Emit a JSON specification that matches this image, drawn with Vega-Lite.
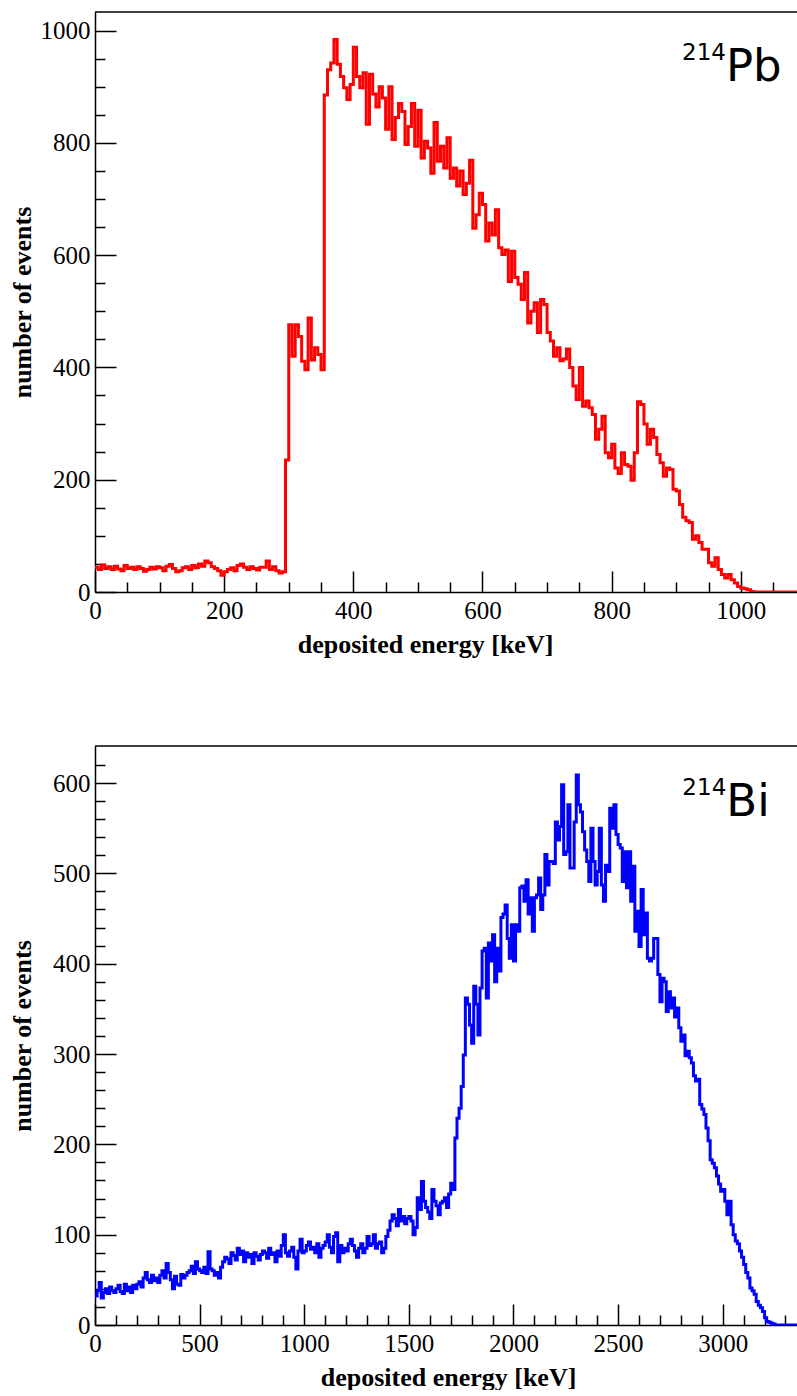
{
  "$schema": "https://vega.github.io/schema/vega-lite/v6.json",
  "background": "white",
  "padding": {"left": 9, "top": 11, "right": 0, "bottom": 0},
  "bounds": "flush",
  "spacing": 154,
  "config": {
    "view": {"stroke": null},
    "axis": {
      "grid": false,
      "format": "d",
      "labelFont": "Liberation Serif",
      "labelFontSize": 25,
      "labelColor": "#000000",
      "titleFont": "Liberation Serif",
      "titleFontSize": 26,
      "titleFontWeight": "bold",
      "titleColor": "#000000",
      "domainColor": "#000000",
      "domainWidth": 1.5,
      "tickColor": "#000000",
      "tickWidth": 1.5,
      "labelOverlap": false,
      "labelBound": false,
      "labelFlush": false
    }
  },
  "datasets": {
    "pb": [
      {"e":0,"n":44},{"e":5,"n":40},{"e":10,"n":48},{"e":15,"n":42},{"e":20,"n":45},{"e":25,"n":40},{"e":30,"n":46},{"e":35,"n":41},{"e":40,"n":38},{"e":45,"n":47},
      {"e":50,"n":42},{"e":55,"n":44},{"e":60,"n":40},{"e":65,"n":45},{"e":70,"n":42},{"e":75,"n":37},{"e":80,"n":40},{"e":85,"n":44},{"e":90,"n":41},{"e":95,"n":45},
      {"e":100,"n":43},{"e":105,"n":38},{"e":110,"n":46},{"e":115,"n":49},{"e":120,"n":42},{"e":125,"n":36},{"e":130,"n":38},{"e":135,"n":43},{"e":140,"n":45},{"e":145,"n":40},
      {"e":150,"n":47},{"e":155,"n":43},{"e":160,"n":50},{"e":165,"n":46},{"e":170,"n":55},{"e":175,"n":52},{"e":180,"n":45},{"e":185,"n":42},{"e":190,"n":38},{"e":195,"n":30},
      {"e":200,"n":36},{"e":205,"n":40},{"e":210,"n":43},{"e":215,"n":38},{"e":220,"n":47},{"e":225,"n":50},{"e":230,"n":44},{"e":235,"n":40},{"e":240,"n":45},{"e":245,"n":42},
      {"e":250,"n":39},{"e":255,"n":44},{"e":260,"n":44},{"e":265,"n":55},{"e":270,"n":40},{"e":275,"n":45},{"e":280,"n":38},{"e":285,"n":34},{"e":290,"n":36},{"e":295,"n":235},
      {"e":300,"n":476},{"e":305,"n":420},{"e":310,"n":476},{"e":315,"n":455},{"e":320,"n":411},{"e":325,"n":396},{"e":330,"n":488},{"e":335,"n":413},{"e":340,"n":435},{"e":345,"n":423},
      {"e":350,"n":396},{"e":355,"n":885},{"e":360,"n":930},{"e":365,"n":942},{"e":370,"n":984},{"e":375,"n":940},{"e":380,"n":918},{"e":385,"n":898},{"e":390,"n":877},{"e":395,"n":904},
      {"e":400,"n":970},{"e":405,"n":918},{"e":410,"n":898},{"e":415,"n":925},{"e":420,"n":833},{"e":425,"n":922},{"e":430,"n":887},{"e":435,"n":864},{"e":440,"n":900},{"e":445,"n":880},
      {"e":450,"n":824},{"e":455,"n":900},{"e":460,"n":806},{"e":465,"n":845},{"e":470,"n":870},{"e":475,"n":856},{"e":480,"n":797},{"e":485,"n":829},{"e":490,"n":870},{"e":495,"n":794},
      {"e":500,"n":858},{"e":505,"n":773},{"e":510,"n":803},{"e":515,"n":791},{"e":520,"n":746},{"e":525,"n":836},{"e":530,"n":767},{"e":535,"n":794},{"e":540,"n":755},{"e":545,"n":809},
      {"e":550,"n":737},{"e":555,"n":755},{"e":560,"n":723},{"e":565,"n":750},{"e":570,"n":708},{"e":575,"n":728},{"e":580,"n":769},{"e":585,"n":648},{"e":590,"n":672},{"e":595,"n":710},
      {"e":600,"n":690},{"e":605,"n":625},{"e":610,"n":657},{"e":615,"n":636},{"e":620,"n":681},{"e":625,"n":613},{"e":630,"n":601},{"e":635,"n":609},{"e":640,"n":553},{"e":645,"n":607},
      {"e":650,"n":560},{"e":655,"n":548},{"e":660,"n":521},{"e":665,"n":569},{"e":670,"n":479},{"e":675,"n":500},{"e":680,"n":515},{"e":685,"n":462},{"e":690,"n":521},{"e":695,"n":512},
      {"e":700,"n":462},{"e":705,"n":447},{"e":710,"n":420},{"e":715,"n":435},{"e":720,"n":412},{"e":725,"n":415},{"e":730,"n":433},{"e":735,"n":400},{"e":740,"n":367},{"e":745,"n":343},
      {"e":750,"n":400},{"e":755,"n":331},{"e":760,"n":340},{"e":765,"n":328},{"e":770,"n":316},{"e":775,"n":272},{"e":780,"n":290},{"e":785,"n":313},{"e":790,"n":248},{"e":795,"n":239},
      {"e":800,"n":263},{"e":805,"n":221},{"e":810,"n":211},{"e":815,"n":248},{"e":820,"n":227},{"e":825,"n":224},{"e":830,"n":199},{"e":835,"n":248},{"e":840,"n":339},{"e":845,"n":334},
      {"e":850,"n":299},{"e":855,"n":263},{"e":860,"n":290},{"e":865,"n":275},{"e":870,"n":245},{"e":875,"n":230},{"e":880,"n":206},{"e":885,"n":221},{"e":890,"n":218},{"e":895,"n":183},
      {"e":900,"n":180},{"e":905,"n":156},{"e":910,"n":133},{"e":915,"n":127},{"e":920,"n":124},{"e":925,"n":94},{"e":930,"n":100},{"e":935,"n":88},{"e":940,"n":76},{"e":945,"n":76},
      {"e":950,"n":52},{"e":955,"n":46},{"e":960,"n":61},{"e":965,"n":40},{"e":970,"n":31},{"e":975,"n":25},{"e":980,"n":31},{"e":985,"n":22},{"e":990,"n":16},{"e":995,"n":10},
      {"e":1000,"n":7},{"e":1005,"n":6},{"e":1010,"n":4},{"e":1015,"n":1},{"e":1020,"n":0},{"e":1025,"n":0},{"e":1030,"n":0},{"e":1035,"n":0},{"e":1040,"n":0},{"e":1045,"n":0},
      {"e":1050,"n":0},{"e":1055,"n":0},{"e":1060,"n":0},{"e":1065,"n":0},{"e":1070,"n":0},{"e":1075,"n":0},{"e":1080,"n":0},{"e":1085,"n":0},{"e":1090,"n":0}
    ],
    "bi": [
      {"e":0,"n":32},{"e":10,"n":38},{"e":20,"n":47},{"e":30,"n":30},{"e":40,"n":36},{"e":50,"n":40},{"e":60,"n":35},{"e":70,"n":42},{"e":80,"n":38},{"e":90,"n":36},
      {"e":100,"n":40},{"e":110,"n":44},{"e":120,"n":37},{"e":130,"n":35},{"e":140,"n":45},{"e":150,"n":38},{"e":160,"n":42},{"e":170,"n":36},{"e":180,"n":44},{"e":190,"n":40},
      {"e":200,"n":45},{"e":210,"n":48},{"e":220,"n":42},{"e":230,"n":52},{"e":240,"n":58},{"e":250,"n":50},{"e":260,"n":47},{"e":270,"n":55},{"e":280,"n":49},{"e":290,"n":52},
      {"e":300,"n":47},{"e":310,"n":55},{"e":320,"n":60},{"e":330,"n":52},{"e":340,"n":68},{"e":350,"n":58},{"e":360,"n":50},{"e":370,"n":40},{"e":380,"n":54},{"e":390,"n":45},
      {"e":400,"n":44},{"e":410,"n":56},{"e":420,"n":52},{"e":430,"n":55},{"e":440,"n":58},{"e":450,"n":60},{"e":460,"n":65},{"e":470,"n":57},{"e":480,"n":70},{"e":490,"n":62},
      {"e":500,"n":60},{"e":510,"n":58},{"e":520,"n":64},{"e":530,"n":57},{"e":540,"n":81},{"e":550,"n":62},{"e":560,"n":60},{"e":570,"n":55},{"e":580,"n":58},{"e":590,"n":52},
      {"e":600,"n":64},{"e":610,"n":70},{"e":620,"n":75},{"e":630,"n":73},{"e":640,"n":68},{"e":650,"n":80},{"e":660,"n":77},{"e":670,"n":72},{"e":680,"n":85},{"e":690,"n":78},
      {"e":700,"n":82},{"e":710,"n":70},{"e":720,"n":80},{"e":730,"n":75},{"e":740,"n":78},{"e":750,"n":68},{"e":760,"n":80},{"e":770,"n":76},{"e":780,"n":72},{"e":790,"n":78},
      {"e":800,"n":82},{"e":810,"n":80},{"e":820,"n":74},{"e":830,"n":85},{"e":840,"n":78},{"e":850,"n":80},{"e":860,"n":70},{"e":870,"n":82},{"e":880,"n":76},{"e":890,"n":88},
      {"e":900,"n":100},{"e":910,"n":80},{"e":920,"n":76},{"e":930,"n":82},{"e":940,"n":86},{"e":950,"n":75},{"e":960,"n":62},{"e":970,"n":82},{"e":980,"n":95},{"e":990,"n":80},
      {"e":1000,"n":82},{"e":1010,"n":88},{"e":1020,"n":92},{"e":1030,"n":84},{"e":1040,"n":86},{"e":1050,"n":80},{"e":1060,"n":90},{"e":1070,"n":75},{"e":1080,"n":85},{"e":1090,"n":88},
      {"e":1100,"n":92},{"e":1110,"n":100},{"e":1120,"n":86},{"e":1130,"n":80},{"e":1140,"n":98},{"e":1150,"n":102},{"e":1160,"n":70},{"e":1170,"n":88},{"e":1180,"n":80},{"e":1190,"n":85},
      {"e":1200,"n":82},{"e":1210,"n":90},{"e":1220,"n":95},{"e":1230,"n":88},{"e":1240,"n":82},{"e":1250,"n":75},{"e":1260,"n":85},{"e":1270,"n":90},{"e":1280,"n":80},{"e":1290,"n":85},
      {"e":1300,"n":98},{"e":1310,"n":88},{"e":1320,"n":90},{"e":1330,"n":100},{"e":1340,"n":85},{"e":1350,"n":90},{"e":1360,"n":92},{"e":1370,"n":80},{"e":1380,"n":85},{"e":1390,"n":98},
      {"e":1400,"n":105},{"e":1410,"n":115},{"e":1420,"n":122},{"e":1430,"n":118},{"e":1440,"n":110},{"e":1450,"n":128},{"e":1460,"n":115},{"e":1470,"n":120},{"e":1480,"n":112},{"e":1490,"n":118},
      {"e":1500,"n":120},{"e":1510,"n":115},{"e":1520,"n":100},{"e":1530,"n":108},{"e":1540,"n":141},{"e":1550,"n":128},{"e":1560,"n":159},{"e":1570,"n":137},{"e":1580,"n":130},{"e":1590,"n":125},
      {"e":1600,"n":118},{"e":1610,"n":150},{"e":1620,"n":137},{"e":1630,"n":132},{"e":1640,"n":122},{"e":1650,"n":135},{"e":1660,"n":137},{"e":1670,"n":141},{"e":1680,"n":130},{"e":1690,"n":145},
      {"e":1700,"n":157},{"e":1710,"n":150},{"e":1720,"n":207},{"e":1730,"n":229},{"e":1740,"n":240},{"e":1750,"n":264},{"e":1760,"n":299},{"e":1770,"n":362},{"e":1780,"n":355},{"e":1790,"n":332},
      {"e":1800,"n":312},{"e":1810,"n":375},{"e":1820,"n":355},{"e":1830,"n":321},{"e":1840,"n":373},{"e":1850,"n":414},{"e":1860,"n":417},{"e":1870,"n":362},{"e":1880,"n":423},{"e":1890,"n":403},
      {"e":1900,"n":432},{"e":1910,"n":380},{"e":1920,"n":417},{"e":1930,"n":392},{"e":1940,"n":451},{"e":1950,"n":455},{"e":1960,"n":465},{"e":1970,"n":428},{"e":1980,"n":406},{"e":1990,"n":443},
      {"e":2000,"n":403},{"e":2010,"n":443},{"e":2020,"n":436},{"e":2030,"n":484},{"e":2040,"n":486},{"e":2050,"n":469},{"e":2060,"n":493},{"e":2070,"n":455},{"e":2080,"n":473},{"e":2090,"n":436},
      {"e":2100,"n":473},{"e":2110,"n":476},{"e":2120,"n":495},{"e":2130,"n":460},{"e":2140,"n":476},{"e":2150,"n":521},{"e":2160,"n":487},{"e":2170,"n":513},{"e":2180,"n":513},{"e":2190,"n":511},
      {"e":2200,"n":557},{"e":2210,"n":537},{"e":2220,"n":552},{"e":2230,"n":598},{"e":2240,"n":521},{"e":2250,"n":524},{"e":2260,"n":576},{"e":2270,"n":506},{"e":2280,"n":506},{"e":2290,"n":557},
      {"e":2300,"n":609},{"e":2310,"n":576},{"e":2320,"n":568},{"e":2330,"n":546},{"e":2340,"n":526},{"e":2350,"n":513},{"e":2360,"n":491},{"e":2370,"n":550},{"e":2380,"n":513},{"e":2390,"n":487},
      {"e":2400,"n":502},{"e":2410,"n":550},{"e":2420,"n":487},{"e":2430,"n":469},{"e":2440,"n":509},{"e":2450,"n":502},{"e":2460,"n":572},{"e":2470,"n":550},{"e":2480,"n":576},{"e":2490,"n":543},
      {"e":2500,"n":532},{"e":2510,"n":528},{"e":2520,"n":491},{"e":2530,"n":524},{"e":2540,"n":484},{"e":2550,"n":524},{"e":2560,"n":469},{"e":2570,"n":508},{"e":2580,"n":436},{"e":2590,"n":458},
      {"e":2600,"n":419},{"e":2610,"n":482},{"e":2620,"n":432},{"e":2630,"n":456},{"e":2640,"n":406},{"e":2650,"n":403},{"e":2660,"n":406},{"e":2670,"n":428},{"e":2680,"n":428},{"e":2690,"n":388},
      {"e":2700,"n":358},{"e":2710,"n":384},{"e":2720,"n":380},{"e":2730,"n":347},{"e":2740,"n":369},{"e":2750,"n":351},{"e":2760,"n":362},{"e":2770,"n":341},{"e":2780,"n":351},{"e":2790,"n":329},
      {"e":2800,"n":314},{"e":2810,"n":321},{"e":2820,"n":298},{"e":2830,"n":303},{"e":2840,"n":296},{"e":2850,"n":290},{"e":2860,"n":276},{"e":2870,"n":270},{"e":2880,"n":272},{"e":2890,"n":244},
      {"e":2900,"n":239},{"e":2910,"n":233},{"e":2920,"n":218},{"e":2930,"n":204},{"e":2940,"n":183},{"e":2950,"n":179},{"e":2960,"n":174},{"e":2970,"n":165},{"e":2980,"n":156},{"e":2990,"n":148},
      {"e":3000,"n":150},{"e":3010,"n":137},{"e":3020,"n":122},{"e":3030,"n":137},{"e":3040,"n":111},{"e":3050,"n":100},{"e":3060,"n":93},{"e":3070,"n":90},{"e":3080,"n":82},{"e":3090,"n":75},
      {"e":3100,"n":67},{"e":3110,"n":58},{"e":3120,"n":52},{"e":3130,"n":41},{"e":3140,"n":38},{"e":3150,"n":34},{"e":3160,"n":26},{"e":3170,"n":22},{"e":3180,"n":19},{"e":3190,"n":15},
      {"e":3200,"n":8},{"e":3210,"n":4},{"e":3220,"n":3},{"e":3230,"n":2},{"e":3240,"n":1},{"e":3250,"n":0},{"e":3260,"n":0},{"e":3270,"n":0},{"e":3280,"n":0},{"e":3290,"n":0},
      {"e":3300,"n":0},{"e":3310,"n":0},{"e":3320,"n":0},{"e":3330,"n":0},{"e":3340,"n":0},{"e":3350,"n":0},{"e":3360,"n":0}
    ],
    "pbLabel": [{"iso": "Pb", "mass": "214"}],
    "biLabel": [{"iso": "Bi", "mass": "214"}]
  },
  "vconcat": [
    {
      "width": 702,
      "height": 580,
      "layer": [
        {
          "data": {"name": "pb"},
          "mark": {"type": "line", "interpolate": "step-after", "color": "#ff0000", "strokeWidth": 3, "clip": true},
          "encoding": {
            "x": {"field": "e", "type": "quantitative", "scale": {"domain": [0, 1087], "nice": false, "zero": false},
              "axis": {"values": [0,50,100,150,200,250,300,350,400,450,500,550,600,650,700,750,800,850,900,950,1000,1050], "labelExpr": "datum.value % 200 === 0 ? datum.label : ''", "tickSize": {"condition": {"test": "datum.value % 200 === 0", "value": -21}, "value": -10}, "labelPadding": 27, "title": "deposited energy [keV]", "titleX": 330, "titlePadding": -3}},
            "y": {"field": "n", "type": "quantitative", "scale": {"domain": [0, 1033], "nice": false},
              "axis": {"values": [0,50,100,150,200,250,300,350,400,450,500,550,600,650,700,750,800,850,900,950,1000], "labelExpr": "datum.value % 200 === 0 ? datum.label : ''", "tickSize": {"condition": {"test": "datum.value % 200 === 0", "value": -21}, "value": -10}, "labelPadding": 26, "title": "number of events", "titlePadding": 5}}
          }
        },
        {
          "data": {"name": "pbLabel"},
          "mark": {"type": "rule", "color": "#000000", "strokeWidth": 1.5},
          "encoding": {
            "y": {"datum": 1033, "type": "quantitative",
              "axis": {"values": [0,50,100,150,200,250,300,350,400,450,500,550,600,650,700,750,800,850,900,950,1000], "labelExpr": "datum.value % 200 === 0 ? datum.label : ''", "tickSize": {"condition": {"test": "datum.value % 200 === 0", "value": -21}, "value": -10}, "labelPadding": 26, "title": "number of events", "titlePadding": 5}}
          }
        },
        {
          "data": {"name": "pbLabel"},
          "mark": {"type": "text", "font": "DejaVu Sans", "fontSize": 45, "align": "left", "baseline": "alphabetic", "color": "#000000"},
          "encoding": {
            "text": {"field": "iso"},
            "x": {"datum": 977, "type": "quantitative",
              "axis": {"values": [0,50,100,150,200,250,300,350,400,450,500,550,600,650,700,750,800,850,900,950,1000,1050], "labelExpr": "datum.value % 200 === 0 ? datum.label : ''", "tickSize": {"condition": {"test": "datum.value % 200 === 0", "value": -21}, "value": -10}, "labelPadding": 27, "title": "deposited energy [keV]", "titleX": 330, "titlePadding": -3}},
            "y": {"datum": 910, "type": "quantitative",
              "axis": {"values": [0,50,100,150,200,250,300,350,400,450,500,550,600,650,700,750,800,850,900,950,1000], "labelExpr": "datum.value % 200 === 0 ? datum.label : ''", "tickSize": {"condition": {"test": "datum.value % 200 === 0", "value": -21}, "value": -10}, "labelPadding": 26, "title": "number of events", "titlePadding": 5}}
          }
        },
        {
          "data": {"name": "pbLabel"},
          "mark": {"type": "text", "font": "DejaVu Sans", "fontSize": 23, "align": "right", "baseline": "alphabetic", "color": "#000000"},
          "encoding": {
            "text": {"field": "mass"},
            "x": {"datum": 977, "type": "quantitative",
              "axis": {"values": [0,50,100,150,200,250,300,350,400,450,500,550,600,650,700,750,800,850,900,950,1000,1050], "labelExpr": "datum.value % 200 === 0 ? datum.label : ''", "tickSize": {"condition": {"test": "datum.value % 200 === 0", "value": -21}, "value": -10}, "labelPadding": 27, "title": "deposited energy [keV]", "titleX": 330, "titlePadding": -3}},
            "y": {"datum": 948, "type": "quantitative",
              "axis": {"values": [0,50,100,150,200,250,300,350,400,450,500,550,600,650,700,750,800,850,900,950,1000], "labelExpr": "datum.value % 200 === 0 ? datum.label : ''", "tickSize": {"condition": {"test": "datum.value % 200 === 0", "value": -21}, "value": -10}, "labelPadding": 26, "title": "number of events", "titlePadding": 5}}
          }
        }
      ]
    },
    {
      "width": 702,
      "height": 579,
      "layer": [
        {
          "data": {"name": "bi"},
          "mark": {"type": "line", "interpolate": "step-after", "color": "#0000ff", "strokeWidth": 3, "clip": true},
          "encoding": {
            "x": {"field": "e", "type": "quantitative", "scale": {"domain": [0, 3355], "nice": false, "zero": false},
              "axis": {"values": [0,100,200,300,400,500,600,700,800,900,1000,1100,1200,1300,1400,1500,1600,1700,1800,1900,2000,2100,2200,2300,2400,2500,2600,2700,2800,2900,3000,3100,3200,3300], "labelExpr": "datum.value % 500 === 0 ? datum.label : ''", "tickSize": {"condition": {"test": "datum.value % 500 === 0", "value": -21}, "value": -10}, "labelPadding": 27, "title": "deposited energy [keV]", "titleX": 353, "titlePadding": -3}},
            "y": {"field": "n", "type": "quantitative", "scale": {"domain": [0, 641], "nice": false},
              "axis": {"values": [0,20,40,60,80,100,120,140,160,180,200,220,240,260,280,300,320,340,360,380,400,420,440,460,480,500,520,540,560,580,600,620], "labelExpr": "datum.value % 100 === 0 ? datum.label : ''", "tickSize": {"condition": {"test": "datum.value % 100 === 0", "value": -21}, "value": -10}, "labelPadding": 26, "title": "number of events", "titlePadding": 17}}
          }
        },
        {
          "data": {"name": "biLabel"},
          "mark": {"type": "rule", "color": "#000000", "strokeWidth": 1.5},
          "encoding": {
            "y": {"datum": 641, "type": "quantitative",
              "axis": {"values": [0,20,40,60,80,100,120,140,160,180,200,220,240,260,280,300,320,340,360,380,400,420,440,460,480,500,520,540,560,580,600,620], "labelExpr": "datum.value % 100 === 0 ? datum.label : ''", "tickSize": {"condition": {"test": "datum.value % 100 === 0", "value": -21}, "value": -10}, "labelPadding": 26, "title": "number of events", "titlePadding": 17}}
          }
        },
        {
          "data": {"name": "biLabel"},
          "mark": {"type": "text", "font": "DejaVu Sans", "fontSize": 45, "align": "left", "baseline": "alphabetic", "color": "#000000"},
          "encoding": {
            "text": {"field": "iso"},
            "x": {"datum": 3017, "type": "quantitative",
              "axis": {"values": [0,100,200,300,400,500,600,700,800,900,1000,1100,1200,1300,1400,1500,1600,1700,1800,1900,2000,2100,2200,2300,2400,2500,2600,2700,2800,2900,3000,3100,3200,3300], "labelExpr": "datum.value % 500 === 0 ? datum.label : ''", "tickSize": {"condition": {"test": "datum.value % 500 === 0", "value": -21}, "value": -10}, "labelPadding": 27, "title": "deposited energy [keV]", "titleX": 353, "titlePadding": -3}},
            "y": {"datum": 563, "type": "quantitative",
              "axis": {"values": [0,20,40,60,80,100,120,140,160,180,200,220,240,260,280,300,320,340,360,380,400,420,440,460,480,500,520,540,560,580,600,620], "labelExpr": "datum.value % 100 === 0 ? datum.label : ''", "tickSize": {"condition": {"test": "datum.value % 100 === 0", "value": -21}, "value": -10}, "labelPadding": 26, "title": "number of events", "titlePadding": 17}}
          }
        },
        {
          "data": {"name": "biLabel"},
          "mark": {"type": "text", "font": "DejaVu Sans", "fontSize": 23, "align": "right", "baseline": "alphabetic", "color": "#000000"},
          "encoding": {
            "text": {"field": "mass"},
            "x": {"datum": 3017, "type": "quantitative",
              "axis": {"values": [0,100,200,300,400,500,600,700,800,900,1000,1100,1200,1300,1400,1500,1600,1700,1800,1900,2000,2100,2200,2300,2400,2500,2600,2700,2800,2900,3000,3100,3200,3300], "labelExpr": "datum.value % 500 === 0 ? datum.label : ''", "tickSize": {"condition": {"test": "datum.value % 500 === 0", "value": -21}, "value": -10}, "labelPadding": 27, "title": "deposited energy [keV]", "titleX": 353, "titlePadding": -3}},
            "y": {"datum": 587, "type": "quantitative",
              "axis": {"values": [0,20,40,60,80,100,120,140,160,180,200,220,240,260,280,300,320,340,360,380,400,420,440,460,480,500,520,540,560,580,600,620], "labelExpr": "datum.value % 100 === 0 ? datum.label : ''", "tickSize": {"condition": {"test": "datum.value % 100 === 0", "value": -21}, "value": -10}, "labelPadding": 26, "title": "number of events", "titlePadding": 17}}
          }
        }
      ]
    }
  ]
}
